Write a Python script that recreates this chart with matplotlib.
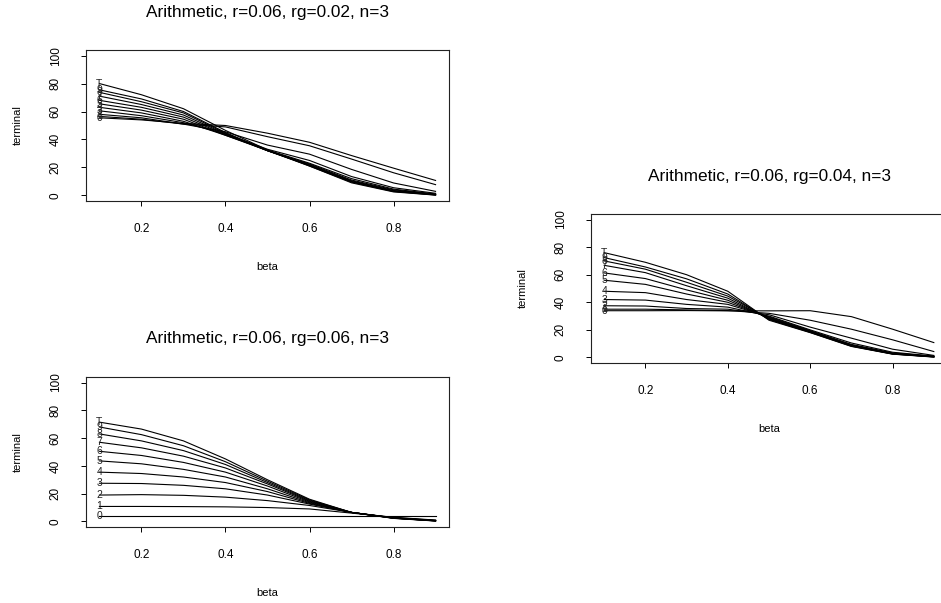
import matplotlib
matplotlib.use("Agg")
import matplotlib.pyplot as plt

plt.rcParams['font.family'] = ['Liberation Sans', 'DejaVu Sans']

beta = [0.1, 0.2, 0.3, 0.4, 0.5, 0.6, 0.7, 0.8, 0.9]
line_labels = ['0', '1', '2', '3', '4', '5', '6', '7', '8', '9', 'T']
x_ticks = [0.2, 0.4, 0.6, 0.8]
y_ticks = [0, 20, 40, 60, 80, 100]

titles = ["Arithmetic, r=0.06, rg=0.02, n=3",
          "Arithmetic, r=0.06, rg=0.06, n=3",
          "Arithmetic, r=0.06, rg=0.04, n=3"]

# rows follow line_labels
terminal_rg002 = [
    [55.5, 54.0, 51.5, 50.0, 44.5, 38.0, 28.5, 19.5, 10.7],
    [56.5, 54.5, 51.0, 49.0, 42.0, 35.5, 26.0, 16.2, 7.7],
    [58.0, 55.5, 51.0, 45.5, 36.0, 29.5, 18.6, 8.9, 2.9],
    [60.5, 57.0, 52.0, 44.0, 33.0, 25.0, 13.5, 5.5, 1.5],
    [63.0, 59.0, 53.0, 43.0, 32.5, 23.0, 12.0, 4.5, 1.0],
    [65.5, 61.0, 54.5, 43.0, 32.0, 22.5, 11.0, 4.0, 0.8],
    [68.0, 63.0, 56.0, 43.5, 32.0, 22.0, 10.5, 3.5, 0.6],
    [71.0, 65.0, 57.5, 44.0, 32.0, 21.5, 10.0, 3.2, 0.5],
    [73.7, 67.0, 59.0, 44.5, 32.0, 21.5, 9.8, 3.0, 0.4],
    [75.5, 69.0, 60.0, 45.0, 32.0, 21.0, 9.5, 2.8, 0.3],
    [80.0, 72.0, 62.0, 46.5, 32.5, 21.0, 9.0, 2.5, 0.2],
]

terminal_rg006 = [
    [3.6, 3.6, 3.6, 3.6, 3.6, 3.6, 3.6, 3.6, 3.6],
    [10.8, 10.8, 10.7, 10.5, 10.0, 9.0, 6.0, 3.0, 1.0],
    [19.0, 19.3, 18.8, 17.5, 15.0, 11.5, 6.5, 2.8, 0.8],
    [27.5, 27.3, 26.0, 23.5, 19.0, 12.5, 6.5, 2.6, 0.7],
    [35.5, 34.5, 32.0, 28.0, 21.5, 13.0, 6.5, 2.5, 0.6],
    [43.6, 41.5, 37.5, 32.0, 23.5, 13.5, 6.5, 2.5, 0.5],
    [50.5, 47.5, 42.5, 35.5, 25.5, 14.0, 6.5, 2.5, 0.5],
    [57.0, 53.0, 47.0, 38.5, 27.0, 14.5, 6.5, 2.4, 0.5],
    [63.0, 58.0, 51.0, 41.0, 28.0, 15.0, 6.5, 2.4, 0.4],
    [68.0, 62.5, 54.5, 43.0, 29.0, 15.5, 6.5, 2.3, 0.4],
    [71.5, 66.5, 58.0, 45.0, 30.0, 16.0, 6.5, 2.2, 0.3],
]

terminal_rg004 = [
    [33.9, 33.9, 34.0, 33.8, 33.8, 33.9, 29.6, 20.5, 10.8],
    [35.0, 35.0, 34.5, 34.0, 32.0, 27.0, 20.5, 12.8, 4.3],
    [37.5, 37.3, 35.5, 35.0, 31.0, 22.0, 14.0, 6.0, 1.5],
    [42.0, 41.6, 38.5, 36.5, 30.0, 20.0, 10.5, 3.8, 1.0],
    [48.0, 47.0, 42.0, 38.5, 29.5, 19.5, 9.5, 3.3, 0.8],
    [56.0, 53.0, 46.0, 40.0, 29.0, 19.0, 9.0, 3.0, 0.7],
    [61.3, 57.2, 49.0, 41.5, 28.5, 18.8, 8.8, 2.8, 0.6],
    [66.8, 61.5, 52.0, 43.0, 28.0, 18.6, 8.6, 2.7, 0.5],
    [70.0, 64.0, 54.5, 44.5, 28.0, 18.4, 8.4, 2.6, 0.5],
    [72.4, 65.6, 57.0, 46.0, 27.5, 18.2, 8.2, 2.5, 0.4],
    [76.0, 69.0, 60.0, 48.0, 27.0, 18.0, 8.0, 2.4, 0.3],
]

W, H = 941, 603
fig = plt.figure(figsize=(W / 100, H / 100), dpi=100)

def px_rect(l, t, r, b):
    return [l / W, 1 - b / H, (r - l) / W, (b - t) / H]

panels = [
    (terminal_rg002, titles[0], (86, 50, 449, 201)),
    (terminal_rg006, titles[1], (86, 377, 449, 527)),
    (terminal_rg004, titles[2], (591, 214, 947, 363)),
]

for data, title, (l, t, r, b) in panels:
    ax = fig.add_axes(px_rect(l, t, r, b))
    for lab, vals in zip(line_labels, data):
        ax.plot(beta, vals, color='black', linewidth=0.8)
        ax.text(beta[0], vals[0], lab, fontsize=7.5, ha='center', va='center',
                color='#222222')
    ax.set_xlim(0.068, 0.932)
    ax.set_ylim(-4, 104)
    ax.set_xticks(x_ticks)
    ax.set_xticklabels([f"{v:.1f}" for v in x_ticks], fontsize=8.5)
    ax.set_yticks(y_ticks)
    ax.set_yticklabels([str(v) for v in y_ticks], fontsize=8.5, rotation=90,
                       va='center')
    ax.tick_params(axis='both', direction='out', length=3.5, width=0.7,
                   colors='black')
    ax.tick_params(axis='x', pad=12)
    ax.tick_params(axis='y', pad=14)
    for s in ax.spines.values():
        s.set_linewidth(0.8)
        s.set_color('#222222')
    cx = (l + r) / 2
    cy = (t + b) / 2
    fig.text(cx / W, 1 - (t - 38) / H, title, fontsize=12.4, ha='center',
             va='center')
    fig.text(cx / W, 1 - (b + 66) / H, "beta", fontsize=8, ha='center',
             va='center')
    fig.text((l - 68) / W, 1 - cy / H, "terminal", fontsize=8, ha='center',
             va='center', rotation=90)

fig.savefig("out.png", dpi=100)
